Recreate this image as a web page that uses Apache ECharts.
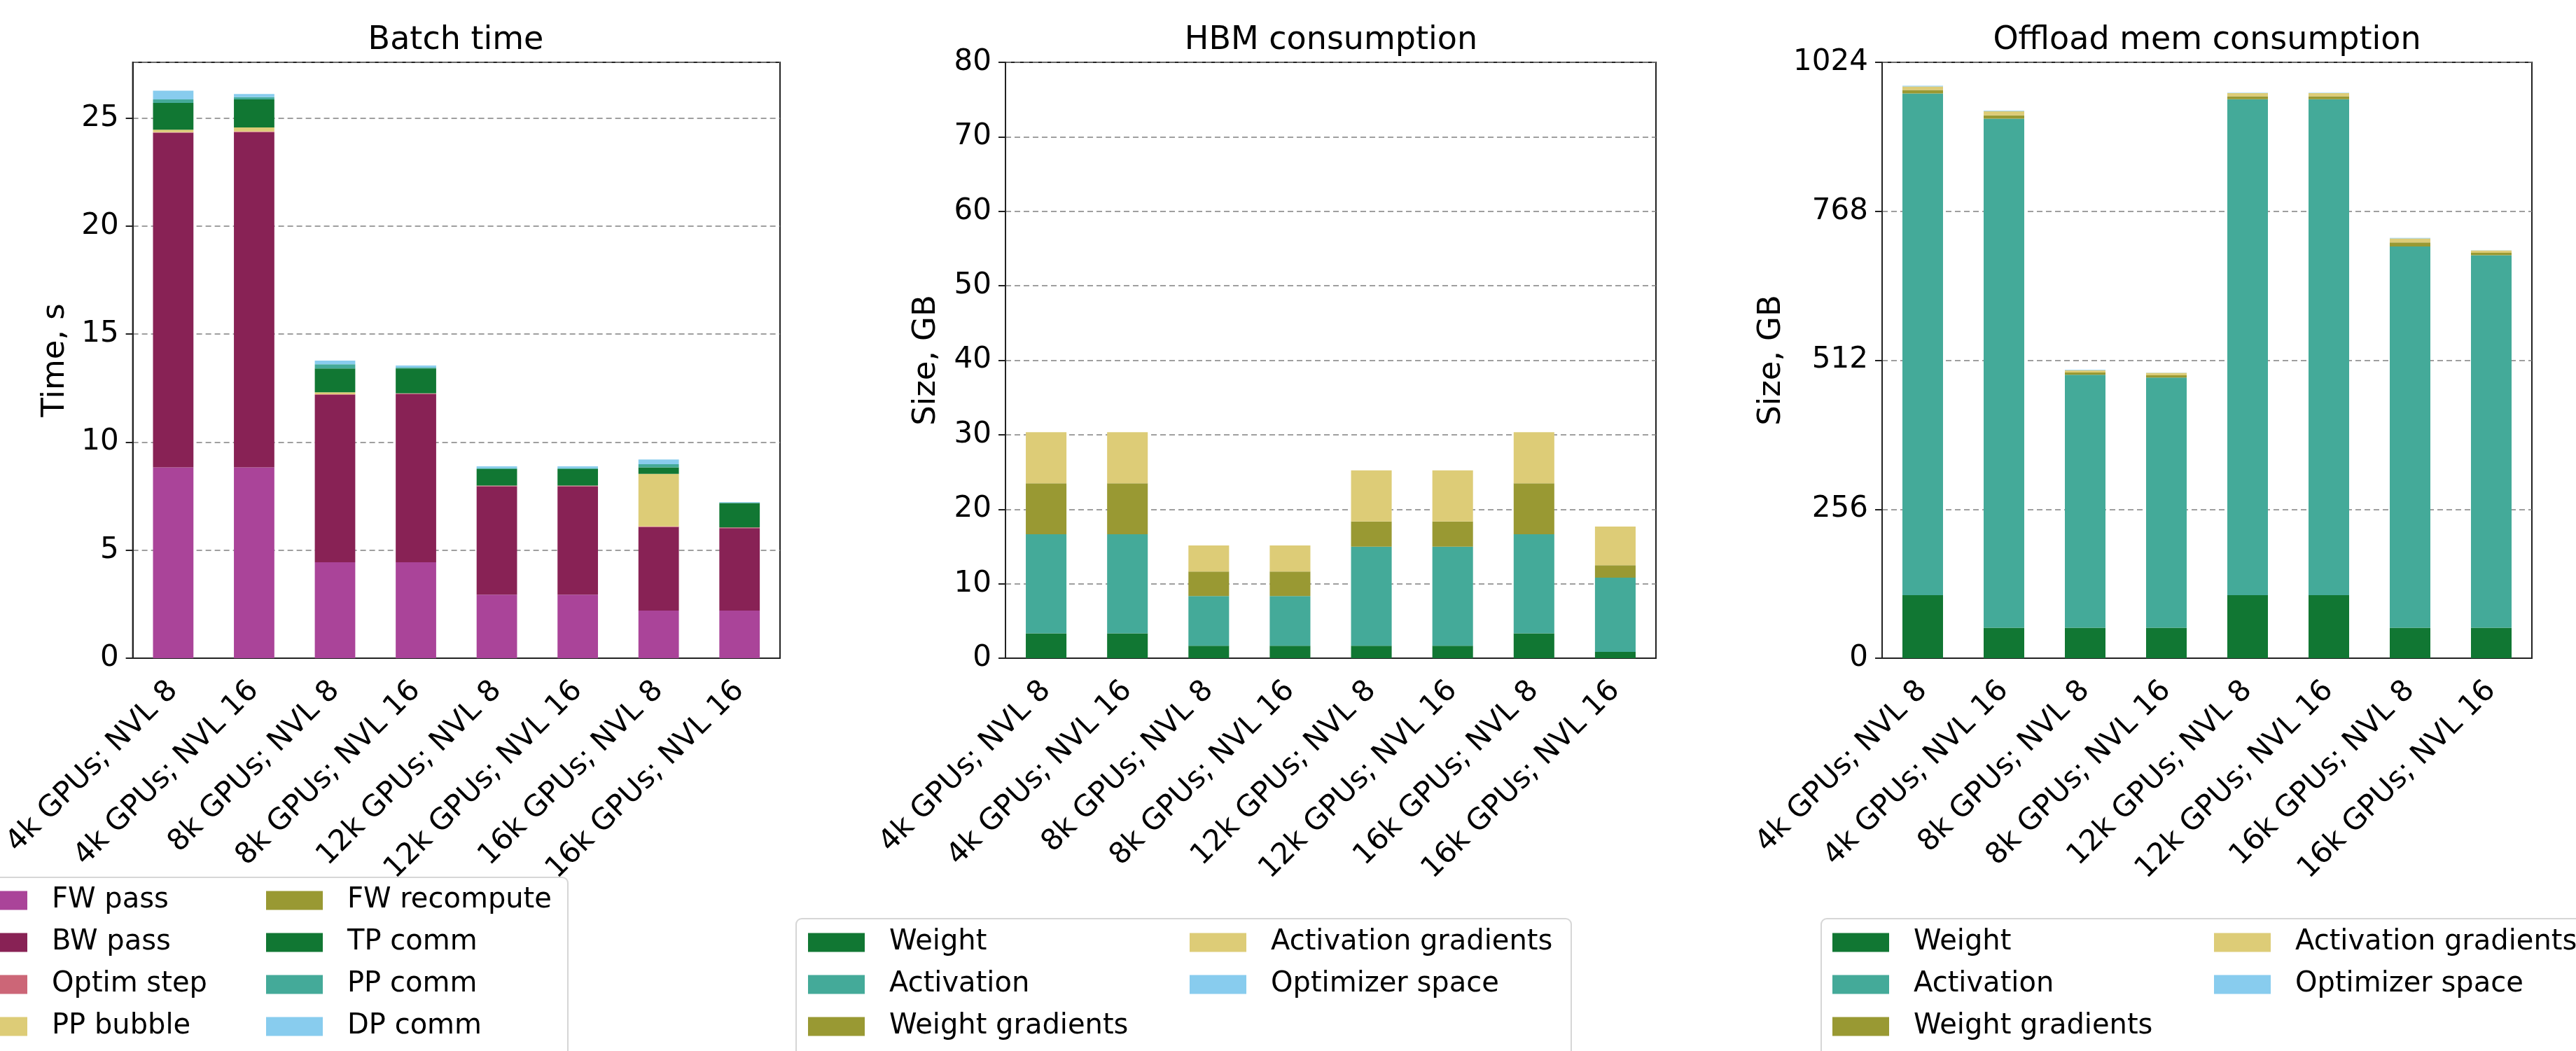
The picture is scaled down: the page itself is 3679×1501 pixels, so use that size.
<!DOCTYPE html>
<html>
<head>
<meta charset="utf-8">
<title>Batch time / HBM / Offload</title>
<script src="https://cdn.jsdelivr.net/npm/echarts@6/dist/echarts.min.js"></script>
<style>
  html, body { margin: 0; padding: 0; background: #fff; }
  #chart { width: 3679px; height: 1501px; }
</style>
</head>
<body>
<div id="chart"></div>
<script>
const categories = [
  "4k GPUs; NVL 8", "4k GPUs; NVL 16", "8k GPUs; NVL 8", "8k GPUs; NVL 16",
  "12k GPUs; NVL 8", "12k GPUs; NVL 16", "16k GPUs; NVL 8", "16k GPUs; NVL 16",
];

// batch time, seconds
const fwPass = [8.83, 8.83, 4.44, 4.44, 2.94, 2.94, 2.2, 2.2];
const bwPass = [15.49, 15.52, 7.75, 7.79, 5.02, 5.02, 3.87, 3.82];
const optimStep = [0.03, 0.03, 0.03, 0.03, 0.03, 0.03, 0.03, 0.03];
const ppBubble = [0.11, 0.19, 0.09, 0.0, 0.0, 0.0, 2.43, 0.0];
const fwRecompute = [0, 0, 0, 0, 0, 0, 0, 0];
const tpComm = [1.24, 1.29, 1.1, 1.15, 0.76, 0.76, 0.3, 1.13];
const ppComm = [0.16, 0.11, 0.19, 0.05, 0.05, 0.05, 0.15, 0.02];
const dpComm = [0.41, 0.14, 0.17, 0.09, 0.08, 0.08, 0.22, 0.03];

// HBM consumption, GB
const hbmWeight = [3.34, 3.34, 1.67, 1.67, 1.67, 1.67, 3.34, 0.84];
const hbmActivation = [13.3, 13.3, 6.68, 6.68, 13.29, 13.29, 13.3, 9.98];
const hbmWeightGrad = [6.85, 6.85, 3.28, 3.28, 3.4, 3.4, 6.85, 1.67];
const hbmActGrad = [6.84, 6.84, 3.5, 3.5, 6.85, 6.85, 6.84, 5.18];
const hbmOptimizer = [0, 0, 0, 0, 0, 0, 0, 0];

// offload memory consumption, GB
const offWeight = [108.3, 52.3, 52.3, 52.3, 108.3, 108.3, 52.3, 52.3];
const offActivation = [862.3, 874.7, 434.6, 429.9, 852.3, 852.3, 655.1, 640.3];
const offWeightGrad = [6, 6, 4, 4, 5, 5, 7, 4];
const offActGrad = [6, 7, 4, 4, 5.5, 5.5, 7, 4];
const offOptimizer = [1, 1, 1, 0.5, 0.5, 0.5, 1, 0.3];

// y tick labels
const batchTicks = [0, 5, 10, 15, 20, 25];
const hbmTicks = [0, 10, 20, 30, 40, 50, 60, 70, 80];
const offloadTicks = [0, 256, 512, 768, 1024];
const batchMax = 27.58;

const FONT = "DejaVu Sans";
const colors = {
  purple: "#AA4499", wine: "#882255", rose: "#CC6677", sand: "#DDCC77",
  olive: "#999933", green: "#117733", teal: "#44AA99", cyan: "#88CCEE",
};

const grids = [
  { left: 188, top: 89, width: 926, height: 851 },
  { left: 1436, top: 89, width: 929, height: 851 },
  { left: 2688, top: 89, width: 928, height: 851 },
];

function xAxisFor(i) {
  return {
    type: "category",
    gridIndex: i,
    data: categories,
    axisLine: { lineStyle: { color: "#222", width: 2 } },
    axisTick: { alignWithLabel: true, length: 10, lineStyle: { color: "#222", width: 2 } },
    axisLabel: {
      interval: 0, rotate: 45, margin: 40,
      // push the text down-right a little, like matplotlib's anchored rotation
      padding: [50, 0, 0, 0],
      fontFamily: FONT, fontSize: 42, color: "#000",
    },
  };
}

function yAxisFor(i, ticks, max, name, nameGap) {
  return {
    type: "value",
    gridIndex: i,
    min: ticks[0],
    max: max,
    interval: ticks[1] - ticks[0],
    name: name,
    nameLocation: "middle",
    nameGap: nameGap,
    nameTextStyle: { fontFamily: FONT, fontSize: 45, color: "#000" },
    axisLine: { show: true, lineStyle: { color: "#222", width: 2 } },
    axisTick: { show: true, length: 10, lineStyle: { color: "#222", width: 2 } },
    axisLabel: {
      margin: 20, fontFamily: FONT, fontSize: 42, color: "#000",
      showMaxLabel: max === ticks[ticks.length - 1],
      formatter: (v) => String(v),
    },
    splitLine: { show: true, lineStyle: { color: "#808080", width: 1.5, type: [8, 5] } },
  };
}

function bar(name, data, color, axis, stack) {
  return {
    name: name,
    type: "bar",
    stack: stack,
    xAxisIndex: axis,
    yAxisIndex: axis,
    barWidth: "50%",
    data: data,
    itemStyle: { color: color },
    emphasis: { disabled: true },
  };
}

function legendCol(names, left, top) {
  return {
    orient: "vertical",
    left: left,
    top: top,
    z: 6,
    padding: 0,
    itemWidth: 81,
    itemHeight: 27,
    itemGap: 20,
    icon: "rect",
    selectedMode: false,
    data: names,
    textStyle: {
      fontFamily: FONT, fontSize: 40, color: "#000",
      lineHeight: 40, padding: [0, 0, 0, 30],
    },
  };
}

function legendBox(x, y, w, h) {
  return {
    type: "rect", z: 5,
    shape: { x: x, y: y, width: w, height: h, r: 8 },
    style: { fill: "rgba(255,255,255,0.8)", stroke: "rgba(204,204,204,0.8)", lineWidth: 2 },
  };
}

const titleStyle = { fontFamily: FONT, fontSize: 46, fontWeight: "normal", color: "#000" };

const chart = echarts.init(document.getElementById("chart"), null, { renderer: "canvas" });

chart.setOption({
  animation: false,
  backgroundColor: "#fff",
  title: [
    { text: "Batch time", left: 646, top: 30, textAlign: "center", textStyle: titleStyle },
    { text: "HBM consumption", left: 1896, top: 30, textAlign: "center", textStyle: titleStyle },
    { text: "Offload mem consumption", left: 3147, top: 30, textAlign: "center", textStyle: titleStyle },
  ],
  grid: grids.map((g) => ({
    left: g.left, top: g.top, width: g.width, height: g.height,
    show: true, borderColor: "#222", borderWidth: 2, backgroundColor: "transparent",
  })),
  xAxis: [xAxisFor(0), xAxisFor(1), xAxisFor(2)],
  yAxis: [
    yAxisFor(0, batchTicks, batchMax, "Time, s", 88),
    yAxisFor(1, hbmTicks, hbmTicks[hbmTicks.length - 1], "Size, GB", 90),
    yAxisFor(2, offloadTicks, offloadTicks[offloadTicks.length - 1], "Size, GB", 135),
  ],
  legend: [
    legendCol(["FW pass", "BW pass", "Optim step", "PP bubble"], -42, 1266),
    legendCol(["FW recompute", "TP comm", "PP comm", "DP comm"], 380, 1266),
    legendCol(["Weight", "Activation", "Weight gradients"], 1154, 1326),
    legendCol(["Activation gradients", "Optimizer space"], 1699, 1326),
    legendCol(["Weight", "Activation", "Weight gradients"], 2617, 1326),
    legendCol(["Activation gradients", "Optimizer space"], 3162, 1326),
  ],
  graphic: [
    legendBox(-60, 1253, 871, 300),
    legendBox(1137, 1312, 1107, 250),
    legendBox(2601, 1312, 1107, 250),
  ],
  series: [
    bar("FW pass", fwPass, colors.purple, 0, "batch"),
    bar("BW pass", bwPass, colors.wine, 0, "batch"),
    bar("Optim step", optimStep, colors.rose, 0, "batch"),
    bar("PP bubble", ppBubble, colors.sand, 0, "batch"),
    bar("FW recompute", fwRecompute, colors.olive, 0, "batch"),
    bar("TP comm", tpComm, colors.green, 0, "batch"),
    bar("PP comm", ppComm, colors.teal, 0, "batch"),
    bar("DP comm", dpComm, colors.cyan, 0, "batch"),

    bar("Weight", hbmWeight, colors.green, 1, "hbm"),
    bar("Activation", hbmActivation, colors.teal, 1, "hbm"),
    bar("Weight gradients", hbmWeightGrad, colors.olive, 1, "hbm"),
    bar("Activation gradients", hbmActGrad, colors.sand, 1, "hbm"),
    bar("Optimizer space", hbmOptimizer, colors.cyan, 1, "hbm"),

    bar("Weight", offWeight, colors.green, 2, "off"),
    bar("Activation", offActivation, colors.teal, 2, "off"),
    bar("Weight gradients", offWeightGrad, colors.olive, 2, "off"),
    bar("Activation gradients", offActGrad, colors.sand, 2, "off"),
    bar("Optimizer space", offOptimizer, colors.cyan, 2, "off"),
  ],
});
</script>
</body>
</html>
